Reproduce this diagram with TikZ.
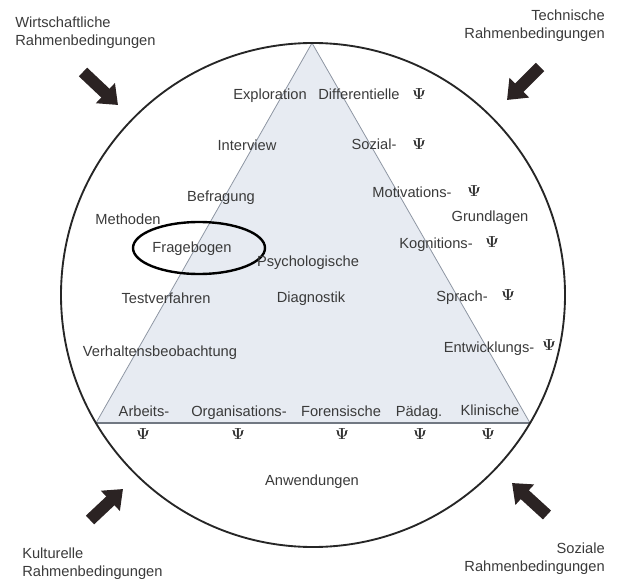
\documentclass[tikz,border=0pt]{standalone}
\usepackage[no-math]{fontspec}
\newfontfamily\helv{Liberation Sans}
\usetikzlibrary{arrows.meta}
\definecolor{txtgray}{HTML}{3A3A3A}
\definecolor{trifill}{HTML}{E7EBF2}
\definecolor{triline}{HTML}{8E96A3}
\definecolor{arrowdark}{HTML}{2B2323}
\tikzset{
  lbl/.style={font=\helv\fontsize{11}{13}\selectfont, text=txtgray, inner sep=0pt, text height=8pt, text depth=2pt},
  corner/.style={font=\helv\fontsize{11}{13}\selectfont, text=txtgray, inner sep=0pt},
  psi/.style={font=\fontsize{13}{15}\selectfont\boldmath, text=black!80, inner sep=0pt},
  bigarrow/.style={draw=arrowdark, line width=9pt, -{Triangle[length=13pt,width=20pt]}},
}

\begin{document}
\begin{tikzpicture}[x=0.75pt,y=-0.75pt]
\useasboundingbox (0,0) rectangle (617,581);
% Dreieck und Kreis
\coordinate (top) at (312,43);
\coordinate (bl) at (96,423);
\coordinate (br) at (530,423);
\fill[trifill] (top) -- (bl) -- (br) -- cycle;
\draw[triline, line width=0.6pt] (bl) -- (top) -- (br);
\draw[triline!80!black, line width=0.9pt] (bl) -- (br);
\draw[black!85, line width=1.4pt] (313,295) circle (252);

% Rahmenbedingungen
\node[corner, align=left, anchor=north west] (wirt) at (15,17) {Wirtschaftliche\\Rahmenbedingungen};
\node[corner, align=right, anchor=north east] (tech) at (605,10) {Technische\\Rahmenbedingungen};
\node[corner, align=left, anchor=north west] (kult) at (22,548) {Kulturelle\\Rahmenbedingungen};
\node[corner, align=right, anchor=north east] (soz) at (605,543) {Soziale\\Rahmenbedingungen};
\coordinate (wirtA) at (83,72);  \coordinate (wirtB) at (118,105);
\coordinate (techA) at (540,67); \coordinate (techB) at (507,100);
\coordinate (kultA) at (90,520); \coordinate (kultB) at (123,489);
\coordinate (sozA) at (547,515); \coordinate (sozB) at (512,483);
\draw[bigarrow] (wirtA) -- (wirtB);
\draw[bigarrow] (techA) -- (techB);
\draw[bigarrow] (kultA) -- (kultB);
\draw[bigarrow] (sozA) -- (sozB);

% Methoden
\node[lbl] (expl) at (270,96) {Exploration};
\node[lbl] (interv) at (247,147) {Interview};
\node[lbl] (befr) at (221,197) {Befragung};
\node[lbl] (meth) at (128,220) {Methoden};
\node[lbl] (frage) at (192,248) {Fragebogen};
\draw[black, line width=1.8pt] (199,248) ellipse [x radius=66, y radius=26];
\node[lbl] (test) at (166,299) {Testverfahren};
\node[lbl] (verh) at (160,352) {Verhaltensbeobachtung};
\node[lbl] (psych) at (308,262) {Psychologische};
\node[lbl] (diagn) at (311,298) {Diagnostik};

% Grundlagen
\node[lbl] (diff) at (359,96) {Differentielle};
\node[psi] (diffP) at (419,94) {$\Psi$};
\node[lbl] (sozial) at (374,146) {Sozial-};
\node[psi] (sozialP) at (419,144) {$\Psi$};
\node[lbl] (motiv) at (412,193) {Motivations-};
\node[psi] (motivP) at (474,191) {$\Psi$};
\node[lbl] (grundl) at (490,217) {Grundlagen};
\node[lbl] (kogn) at (436,244) {Kognitions-};
\node[psi] (kognP) at (492,242) {$\Psi$};
\node[lbl] (sprach) at (462,297) {Sprach-};
\node[psi] (sprachP) at (508,295) {$\Psi$};
\node[lbl] (entw) at (489,348) {Entwicklungs-};
\node[psi] (entwP) at (549,345) {$\Psi$};

% Anwendungen
\node[lbl] (arb) at (144,412) {Arbeits-};
\node[lbl] (org) at (239,412) {Organisations-};
\node[lbl] (foren) at (341,412) {Forensische};
\node[lbl] (paed) at (419,412) {P\"adag.};
\node[lbl] (klin) at (490,411) {Klinische};
\node[psi] (arbP) at (143,434) {$\Psi$};
\node[psi] (orgP) at (238,434) {$\Psi$};
\node[psi] (forenP) at (342,434) {$\Psi$};
\node[psi] (paedP) at (420,434) {$\Psi$};
\node[psi] (klinP) at (488,434) {$\Psi$};
\node[lbl] (anw) at (312,481) {Anwendungen};
\end{tikzpicture}
\end{document}
